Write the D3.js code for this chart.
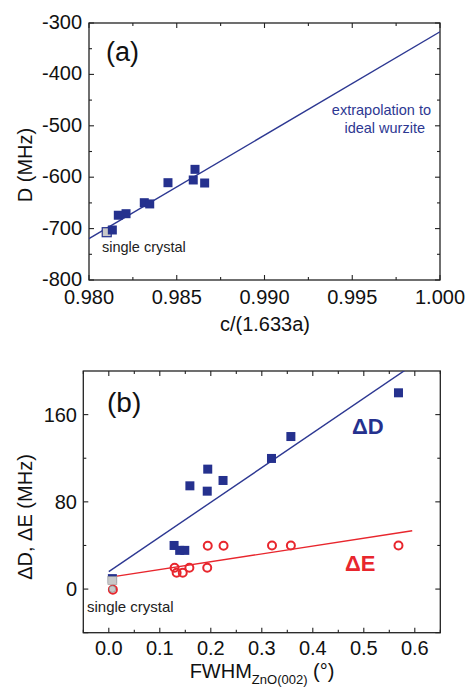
<!DOCTYPE html>
<html><head><meta charset="utf-8">
<script src="https://cdn.jsdelivr.net/npm/d3@7"></script>
<style>body{margin:0;background:#fff}svg{display:block}text{font-family:"Liberation Sans",Arial,sans-serif}</style>
</head><body><svg id="c" width="467" height="687"></svg>
<script>
// Panel (a): D vs c/(1.633a)
const aX = [0.98133, 0.98167, 0.98211, 0.98315, 0.98346, 0.98450, 0.98604, 0.98594, 0.98659];
const aD = [-702.7, -674, -671, -649.6, -652, -610.7, -584.7, -605.4, -611.3];
const aSingle = {x: 0.98101, y: -707};
const aFit = {x: [0.980, 1.000], y: [-719.6, -317]};
const aXTicks = [0.980, 0.985, 0.990, 0.995, 1.000];
const aYTicks = [-800, -700, -600, -500, -400, -300];

// Panel (b): ΔD, ΔE vs FWHM
const bDx = [0.128, 0.139, 0.149, 0.159, 0.194, 0.193, 0.224, 0.319, 0.357, 0.568];
const bDy = [40, 35.5, 35.5, 94.7, 110, 89.8, 99.6, 119.8, 139.9, 180];
const bEx = [0.129, 0.133, 0.145, 0.158, 0.193, 0.194, 0.225, 0.320, 0.357, 0.568];
const bEy = [19.6, 15, 15, 19.6, 19.6, 39.8, 39.8, 40, 40, 40];
const bSingleD = {x: 0.007, y: 8.2};
const bSingleDBlue = {x: 0.007, y: 9.6};
const bSingleE = {x: 0.007, y: 0};
const bSingleERed = {x: 0.008, y: -0.5};
const bFitD = {x: [0, 0.6], y: [16, 206.8]};
const bFitE = {x: [0, 0.595], y: [10.7, 53.5]};
const bXTicks = [0.0, 0.1, 0.2, 0.3, 0.4, 0.5, 0.6];
const bYTicks = [0, 80, 160];

const blue = "#25318e", lineBlue = "#2d3892", red = "#e8262d";
const svg = d3.select("#c");

function frame(g, x, y, xMajor, xMinor, yMajor, yMinor) {
  const [x0, x1] = x.range(), [y0, y1] = y.range();
  const tk = (vals, len, isX) => {
    vals.forEach(v => {
      if (isX) {
        const p = x(v);
        g.append("line").attr("x1", p).attr("x2", p).attr("y1", y0).attr("y2", y0 - len).attr("stroke", "#222").attr("stroke-width", 1.1);
        g.append("line").attr("x1", p).attr("x2", p).attr("y1", y1).attr("y2", y1 + len).attr("stroke", "#222").attr("stroke-width", 1.1);
      } else {
        const p = y(v);
        g.append("line").attr("y1", p).attr("y2", p).attr("x1", x0).attr("x2", x0 + len).attr("stroke", "#222").attr("stroke-width", 1.1);
        g.append("line").attr("y1", p).attr("y2", p).attr("x1", x1).attr("x2", x1 - len).attr("stroke", "#222").attr("stroke-width", 1.1);
      }
    });
  };
  tk(xMajor, 5, true); tk(xMinor, 3, true); tk(yMajor, 5, false); tk(yMinor, 3, false);
  g.append("rect").attr("x", x0).attr("y", y1).attr("width", x1 - x0).attr("height", y0 - y1)
    .attr("fill", "none").attr("stroke", "#222").attr("stroke-width", 1.3);
}

// ---------- Panel (a)
{
  const x = d3.scaleLinear().domain([0.980, 1.000]).range([89, 440]);
  const y = d3.scaleLinear().domain([-800, -300]).range([280, 23]);
  const g = svg.append("g");
  const xMinor = d3.range(0.9825, 1.0, 0.005);
  const yMinor = d3.range(-750, -300, 100);
  frame(g, x, y, aXTicks, xMinor, aYTicks, yMinor);
  g.selectAll(".xt").data(aXTicks).join("text").attr("x", d => x(d)).attr("y", 304)
    .attr("text-anchor", "middle").attr("font-size", 20).attr("fill", "#111").text(d => d3.format(".3f")(d));
  g.selectAll(".yt").data(aYTicks).join("text").attr("x", 82).attr("y", d => y(d) + 6)
    .attr("text-anchor", "end").attr("font-size", 20).attr("fill", "#111").text(d => d);
  g.append("text").attr("transform", "translate(32,165) rotate(-90)").attr("text-anchor", "middle")
    .attr("font-size", 20).attr("fill", "#111").text("D (MHz)");
  g.append("text").attr("x", 265).attr("y", 331).attr("text-anchor", "middle")
    .attr("font-size", 20).attr("fill", "#111").text("c/(1.633a)");
  g.append("text").attr("x", 106).attr("y", 61).attr("font-size", 27).attr("fill", "#111").text("(a)");
  const defs = svg.append("defs");
  defs.append("clipPath").attr("id", "clipA").append("rect").attr("x", 89).attr("y", 23).attr("width", 351).attr("height", 257);
  g.append("line").attr("clip-path", "url(#clipA)")
    .attr("x1", x(aFit.x[0])).attr("y1", y(aFit.y[0])).attr("x2", x(aFit.x[1])).attr("y2", y(aFit.y[1]))
    .attr("stroke", lineBlue).attr("stroke-width", 1.4);
  const s = 9;
  g.append("rect").attr("x", x(aSingle.x) - s / 2).attr("y", y(aSingle.y) - s / 2).attr("width", s).attr("height", s)
    .attr("fill", "#c8c8c8").attr("stroke", blue).attr("stroke-width", 1.2);
  g.selectAll(".sq").data(aX.map((v, i) => [v, aD[i]])).join("rect")
    .attr("x", d => x(d[0]) - s / 2).attr("y", d => y(d[1]) - s / 2).attr("width", s).attr("height", s).attr("fill", blue);
  g.append("text").attr("x", 102).attr("y", 252).attr("font-size", 14.5).attr("fill", "#222").text("single crystal");
  g.append("text").attr("x", 431).attr("y", 115).attr("text-anchor", "end").attr("font-size", 14.5).attr("fill", lineBlue).text("extrapolation to");
  g.append("text").attr("x", 425).attr("y", 133).attr("text-anchor", "end").attr("font-size", 14.5).attr("fill", lineBlue).text("ideal wurzite");
}

// ---------- Panel (b)
{
  const x = d3.scaleLinear().domain([-0.05, 0.65]).range([83.3, 440.3]);
  const y = d3.scaleLinear().domain([-40, 200]).range([632.7, 371]);
  const g = svg.append("g");
  const xMinor = d3.range(-0.05, 0.66, 0.1).map(v => +v.toFixed(2));
  frame(g, x, y, bXTicks, xMinor, [-40, 0, 80, 160], [40, 120]);
  g.selectAll(".xt").data(bXTicks).join("text").attr("x", d => x(d)).attr("y", 655)
    .attr("text-anchor", "middle").attr("font-size", 20).attr("fill", "#111").text(d => d3.format(".1f")(d));
  g.selectAll(".yt").data(bYTicks).join("text").attr("x", 77).attr("y", d => y(d) + 7)
    .attr("text-anchor", "end").attr("font-size", 20).attr("fill", "#111").text(d => d);
  g.append("text").attr("transform", "translate(32,517) rotate(-90)").attr("text-anchor", "middle")
    .attr("font-size", 20).attr("fill", "#111").text("ΔD, ΔE (MHz)");
  const xl = g.append("text").attr("x", 262).attr("y", 678).attr("text-anchor", "middle").attr("font-size", 20).attr("fill", "#111");
  xl.append("tspan").text("FWHM");
  xl.append("tspan").attr("font-size", 13).attr("dy", 6).text("ZnO(002)");
  xl.append("tspan").attr("dy", -6).text(" (°)");
  g.append("text").attr("x", 107).attr("y", 412).attr("font-size", 28).attr("fill", "#111").text("(b)");
  svg.select("defs").append("clipPath").attr("id", "clipB").append("rect").attr("x", 83.3).attr("y", 371).attr("width", 357).attr("height", 261.7);
  g.append("line").attr("clip-path", "url(#clipB)")
    .attr("x1", x(bFitD.x[0])).attr("y1", y(bFitD.y[0])).attr("x2", x(bFitD.x[1])).attr("y2", y(bFitD.y[1]))
    .attr("stroke", lineBlue).attr("stroke-width", 1.4);
  g.append("line").attr("clip-path", "url(#clipB)")
    .attr("x1", x(bFitE.x[0])).attr("y1", y(bFitE.y[0])).attr("x2", x(bFitE.x[1])).attr("y2", y(bFitE.y[1]))
    .attr("stroke", red).attr("stroke-width", 1.4);
  const s = 9;
  g.append("rect").attr("x", x(bSingleDBlue.x) - s / 2).attr("y", y(bSingleDBlue.y) - s / 2).attr("width", s).attr("height", s).attr("fill", blue);
  g.append("rect").attr("x", x(bSingleD.x) - s / 2).attr("y", y(bSingleD.y) - s / 2 + 1).attr("width", s).attr("height", s - 1)
    .attr("fill", "#c8c8c8").attr("stroke", "#9a9a9a").attr("stroke-width", 0.6);
  g.append("circle").attr("cx", x(bSingleERed.x)).attr("cy", y(bSingleERed.y)).attr("r", 4).attr("fill", "none").attr("stroke", red).attr("stroke-width", 2);
  g.append("circle").attr("cx", x(bSingleE.x)).attr("cy", y(bSingleE.y)).attr("r", 3.3).attr("fill", "#c8c8c8").attr("stroke", "#777").attr("stroke-width", 0.6);
  g.selectAll(".sq").data(bDx.map((v, i) => [v, bDy[i]])).join("rect")
    .attr("x", d => x(d[0]) - s / 2).attr("y", d => y(d[1]) - s / 2).attr("width", s).attr("height", s).attr("fill", blue);
  g.selectAll(".ci").data(bEx.map((v, i) => [v, bEy[i]])).join("circle")
    .attr("cx", d => x(d[0])).attr("cy", d => y(d[1])).attr("r", 4).attr("fill", "none").attr("stroke", red).attr("stroke-width", 2);
  g.append("text").attr("x", 87).attr("y", 612).attr("font-size", 15).attr("fill", "#222").text("single crystal");
  g.append("text").attr("x", 352).attr("y", 434).attr("font-size", 22).attr("font-weight", "bold").attr("fill", blue).text("ΔD");
  g.append("text").attr("x", 345).attr("y", 571).attr("font-size", 22).attr("font-weight", "bold").attr("fill", red).text("ΔE");
}
</script></body></html>
